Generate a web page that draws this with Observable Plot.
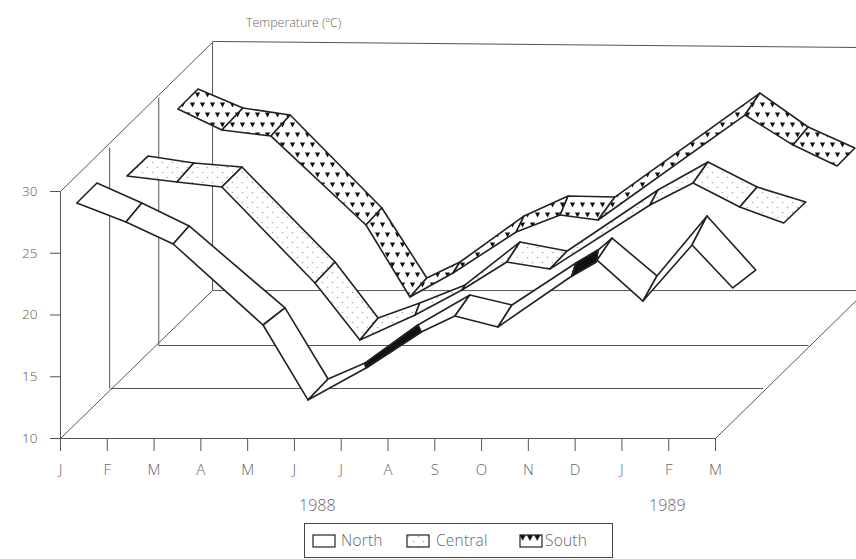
<!DOCTYPE html>
<html>
<head>
<meta charset="utf-8">
<script src="https://cdn.jsdelivr.net/npm/d3@7"></script>
<script src="https://cdn.jsdelivr.net/npm/@observablehq/plot@0.6"></script>
<style>
html,body{margin:0;padding:0;background:#fff;width:856px;height:559px;overflow:hidden}
#chart svg{display:block}
#legend{position:absolute;left:304px;top:523px;width:309px;height:35px;border:1.5px solid #444;box-sizing:border-box;
  font:300 15.5px "Open Sans",sans-serif;color:#666}
#legend svg{position:absolute;top:10px}
#legend span{position:absolute;top:6px;line-height:20px;letter-spacing:.2px}
</style>
</head>
<body>
<div id="chart"></div>
<div id="legend"></div>
<script>
const monthLabels = ["J","F","M","A","M","J","J","A","S","O","N","D","J","F","M"];
const tempTicks = [10,15,20,25,30];

// Ribbon edges: position along the time axis and temperature scale.
const southFrontM = [2.52,3.46,4.51,6.54,7.48,8.40,9.75,10.69,11.50,14.64,15.67,16.61];
const southFrontT = [36.64,34.94,34.45,27.25,21.42,23.36,26.68,28.06,27.65,36.15,33.72,32.02];
const southBackM  = [2.95,3.91,4.92,6.88,7.84,8.55,9.92,10.86,11.86,14.96,15.99,16.99];
const southBackT  = [38.26,36.72,36.15,28.62,22.96,24.25,27.98,29.59,29.51,37.93,35.18,33.48];

const centralFrontM = [1.43,2.50,3.46,5.45,6.41,7.59,8.59,9.55,10.47,12.61,13.53,14.53,15.47];
const centralFrontT = [31.21,30.73,30.32,22.55,17.93,19.96,21.98,24.25,23.68,28.87,30.65,28.70,27.41];
const centralBackM  = [1.88,2.86,3.89,5.88,6.80,7.69,8.66,9.83,10.84,12.78,13.85,14.90,15.94];
const centralBackT  = [32.83,32.27,31.94,24.25,19.72,20.93,22.39,25.87,25.14,30.08,32.35,30.32,29.11];

const northFrontM = [0.36,1.41,2.42,4.34,5.30,6.54,7.72,8.44,9.36,10.94,11.46,11.48,12.46,13.51,14.38];
const northFrontT = [29.03,27.49,25.71,19.15,13.08,15.67,18.58,19.88,18.99,23.12,24.25,24.41,21.09,25.63,22.15];
const northBackM  = [0.79,1.75,2.76,4.81,5.73,6.52,7.65,8.76,9.66,11.03,11.50,11.80,12.76,13.83,14.87];
const northBackT  = [30.65,29.03,27.17,20.53,14.78,16.07,19.15,21.58,20.77,24.17,25.22,26.19,23.12,27.98,23.60];
// Segments whose underside shows (drawn solid black)
const northUnderside = [5,9];

// Box of the 3-D frame: [from position, from temp, to position, to temp]
const frameLines = [
  [0,10,14,10],[0,10,0,30],
  [1.07,14.05,15.02,14.05],[2.10,17.53,15.99,17.53],[3.25,21.98,17.01,21.98],
  [0,10,3.25,21.98],[0,30,3.27,42.15],
  [1.05,14.05,1.05,33.56],[2.10,17.53,2.10,37.61],[3.25,21.98,3.25,42.15],
  [3.27,42.15,17.01,41.66],[14,10,17.01,21.17]
];
const textNotes = [
  {label:"Temperature (ºC)", m:4.98, t:43.68, size:12.4},
  {label:"1988", m:5.49, t:4.58, size:16},
  {label:"1989", m:12.97, t:4.58, size:16}
];
const legendItems = [
  {label:"North", fill:"#fff", swatch:7, text:36},
  {label:"Central", fill:"url(#dots)", swatch:101, text:131},
  {label:"South", fill:"url(#trisKey)", swatch:214, text:240}
];

function ribbon(fm, ft, bm, bt){
  const rows = [];
  for (let i = 0; i < fm.length - 1; i++) {
    for (const j of [i, i + 1]) rows.push({seg:i, x1:fm[j], y1:ft[j], x2:bm[j], y2:bt[j]});
  }
  return rows;
}
const south = ribbon(southFrontM, southFrontT, southBackM, southBackT);
const central = ribbon(centralFrontM, centralFrontT, centralBackM, centralBackT);
const north = ribbon(northFrontM, northFrontT, northBackM, northBackT);
const ink = "#222";
const ribbonMark = (rows, fill) => Plot.area(rows, {
  x1:"x1", y1:"y1", x2:"x2", y2:"y2", z:"seg", fill, stroke:ink, strokeWidth:1.6, strokeLinejoin:"round"
});
const axisColor = "#555", textColor = "#666";

const plot = Plot.plot({
  width:856, height:523,
  marginLeft:60, marginRight:141, marginTop:191, marginBottom:85,
  x:{domain:[0,14]}, y:{domain:[10,30]},
  style:{fontFamily:'"Open Sans",sans-serif', fontSize:"13px", fontWeight:300, background:"#fff", overflow:"visible"},
  marks:[
    Plot.link(frameLines, {x1:d=>d[0], y1:d=>d[1], x2:d=>d[2], y2:d=>d[3], stroke:axisColor, strokeWidth:1}),
    Plot.axisY(tempTicks, {anchor:"left", label:null, tickSize:10, tickPadding:13, stroke:axisColor, color:"#555", fontSize:13.5}),
    Plot.axisX(d3.range(15), {anchor:"bottom", label:null, tickSize:13, tickPadding:13, tickFormat:i=>monthLabels[i], stroke:axisColor, color:textColor, fontSize:15}),
    ribbonMark(south, "url(#tris)"),
    ribbonMark(central, "url(#dots)"),
    ribbonMark(north, "#fff"),
    ribbonMark(north.filter(d=>northUnderside.includes(d.seg)), "#111"),
    Plot.text(textNotes, {x:"m", y:"t", text:"label", fill:textColor, fontSize:"size"})
  ]
});
const defs = d3.select(plot).insert("defs", ":first-child");
const dots = defs.append("pattern").attr("id","dots").attr("patternUnits","userSpaceOnUse").attr("width",10).attr("height",10);
dots.append("rect").attr("width",10).attr("height",10).attr("fill","#fff");
for (const [cx,cy] of [[2.5,2.5],[7.5,7.5]]) dots.append("circle").attr("cx",cx).attr("cy",cy).attr("r",0.8).attr("fill","#aaa");
const tris = defs.append("pattern").attr("id","tris").attr("patternUnits","userSpaceOnUse").attr("width",10).attr("height",20);
tris.append("rect").attr("width",10).attr("height",20).attr("fill","#fff");
for (const [cx,cy] of [[2.5,5],[7.5,15]]) tris.append("path").attr("d",`M${cx-2.6},${cy-2.4}h5.2l-2.6,5z`).attr("fill","#111");
const trisKey = defs.append("pattern").attr("id","trisKey").attr("patternUnits","userSpaceOnUse").attr("width",7.3).attr("height",14);
trisKey.append("rect").attr("width",7.3).attr("height",14).attr("fill","#fff");
trisKey.append("path").attr("d","M0,0h7.3l-3.65,7z").attr("fill","#111");
document.getElementById("chart").appendChild(plot);

const legend = d3.select("#legend");
for (const it of legendItems) {
  const s = legend.append("svg").attr("width",24).attr("height",14).style("left",it.swatch+"px");
  s.append("rect").attr("x",1).attr("y",1).attr("width",22).attr("height",12).attr("fill",it.fill).attr("stroke",ink).attr("stroke-width",1.2);
  legend.append("span").style("left",it.text+"px").text(it.label);
}
</script>
</body>
</html>
